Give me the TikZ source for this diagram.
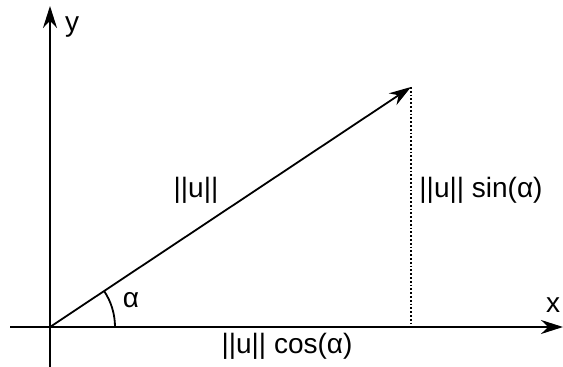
\documentclass[tikz,border=0pt]{standalone}
\usepackage{fontspec}
\setmainfont{Liberation Sans}
\usetikzlibrary{arrows.meta, positioning, calc}
\tikzset{
  axis/.style={
    -{Stealth[length=22pt,width=14pt]},
    line width=1.8pt
  },
  vector/.style={
    -{Stealth[length=22pt,width=14pt]},
    line width=1.8pt
  },
  proj/.style={
    dotted,
    line width=1.8pt
  },
  lbl/.style={
    font=\fontsize{28}{32}\selectfont,
    inner sep=0pt
  }
}
\begin{document}
\begin{tikzpicture}[x=1pt,y=1pt]
\useasboundingbox (0,0) rectangle (563,367);

% --- Points ---
\coordinate (O) at (50,40);
\coordinate (P) at (411,280);
\coordinate (F) at (411,40);
\coordinate (xs) at (10,40);
\coordinate (xe) at (563,40);
\coordinate (ys) at (50,0);
\coordinate (ye) at (50,361);

% --- Axes ---
\draw[axis] (xs) -- (xe);
\draw[axis] (ys) -- (ye);

% --- Vector and projection ---
\draw[vector] (O) -- (P);
\draw[proj] (P) -- (F);

% --- Angle ---
\draw[line width=1.8pt] ($(O)+(65,0)$) arc[start angle=0, end angle=33.6, radius=65];

% --- Labels ---
\node[lbl] (ylbl) at (72,340) {y};
\node[lbl] (xlbl) at (553,62) {x};
\node[lbl] (alpha) at (131,67) {α};
\node[lbl] (norm) at (196,177) {||u||};
\node[lbl] (sinlbl) at (481,177) {||u|| sin(α)};
\node[lbl] (coslbl) at (287,21) {||u|| cos(α)};

\end{tikzpicture}
\end{document}
